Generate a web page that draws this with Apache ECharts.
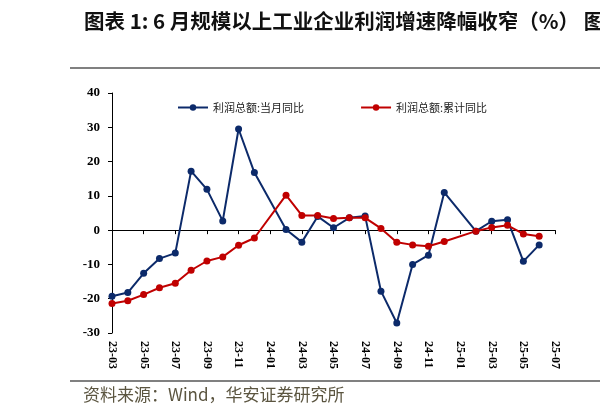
<!DOCTYPE html>
<html>
<head>
<meta charset="utf-8">
<script src="https://cdn.jsdelivr.net/npm/echarts@6/dist/echarts.min.js"></script>
<style>
html,body{margin:0;padding:0;background:#fff;}
#main{width:600px;height:417px;}
</style>
</head>
<body>
<div id="main"></div>
<script>
// 月份（1月与2月合并发布，1月为空）
var months = ['23-03','23-04','23-05','23-06','23-07','23-08','23-09','23-10','23-11','23-12',
              '24-01','24-02','24-03','24-04','24-05','24-06','24-07','24-08','24-09','24-10','24-11','24-12',
              '25-01','25-02','25-03','25-04','25-05','25-06','25-07'];
// 利润总额:当月同比
var monthlyYoy = [-19.3,-18.2,-12.6,-8.3,-6.7,17.2,11.9,2.7,29.5,16.8,
                  null,0.2,-3.5,4.0,0.7,3.6,4.1,-17.8,-27.1,-10.0,-7.3,11.0,
                  null,-0.3,2.6,3.0,-9.1,-4.3,null];
// 利润总额:累计同比
var cumYoy = [-21.4,-20.6,-18.8,-16.8,-15.5,-11.7,-9.0,-7.8,-4.4,-2.3,
              null,10.2,4.3,4.3,3.4,3.6,3.6,0.5,-3.5,-4.3,-4.7,-3.3,
              null,-0.3,0.8,1.4,-1.1,-1.8,null];
var yTicks = {min:-30, max:40, step:10};

var serif = '"Liberation Serif","Times New Roman",serif';
var cjk = '"Noto Sans CJK SC",sans-serif';

var chart = echarts.init(document.getElementById('main'));
var option = {
	animation: false,
	backgroundColor: '#fff',
	grid: {left: 112, right: 45, top: 93, bottom: 84},
	legend: {
		top: 97,
		left: 172,
		itemGap: 56,
		itemWidth: 30,
		itemHeight: 8,
		textStyle: {color: '#222', fontSize: 11, fontFamily: cjk},
		data: ['利润总额:当月同比','利润总额:累计同比']
	},
	graphic: [
		{type:'text', left: 84, top: 11, style:{text:'图表 1: 6 月规模以上工业企业利润增速降幅收窄（%） 图', fill:'#111', font:'bold 20.5px ' + cjk}},
		{type:'rect', shape:{x:70, y:67, width:540, height:2}, style:{fill:'#808080'}},
		{type:'rect', shape:{x:70, y:380, width:540, height:2}, style:{fill:'#808080'}},
		{type:'text', left: 83, top: 386, style:{text:'资料来源：Wind，华安证券研究所', fill:'#5b5540', font:'17px ' + cjk}}
	],
	xAxis: [{
		type: 'category',
		data: months,
		boundaryGap: false,
		axisLine: {onZero: true, lineStyle: {color: '#000', width: 1}},
		axisTick: {interval: 1, length: 4, lineStyle: {color: '#000'}},
		axisLabel: {show: false},
		splitLine: {show: false}
	}, {
		type: 'category',
		data: months,
		boundaryGap: false,
		position: 'bottom',
		axisLine: {show: false, onZero: false},
		axisTick: {show: false},
		axisLabel: {interval: 1, rotate: -90, margin: 8, color: '#000', fontSize: 12, fontWeight: 'bold', fontFamily: serif}
	}],
	yAxis: {
		type: 'value',
		min: yTicks.min,
		max: yTicks.max,
		interval: yTicks.step,
		axisLine: {show: true, lineStyle: {color: '#000', width: 1}},
		axisTick: {show: true, length: 4, lineStyle: {color: '#000'}},
		axisLabel: {color: '#000', fontSize: 13, fontWeight: 'bold', fontFamily: serif, margin: 12},
		splitLine: {show: false}
	},
	series: [{
		name: '利润总额:当月同比',
		type: 'line',
		data: monthlyYoy,
		connectNulls: true,
		symbol: 'circle',
		symbolSize: 7,
		color: '#0c2a6a',
		lineStyle: {width: 2}
	}, {
		name: '利润总额:累计同比',
		type: 'line',
		data: cumYoy,
		connectNulls: true,
		symbol: 'circle',
		symbolSize: 7,
		color: '#c00000',
		lineStyle: {width: 2}
	}]
};
chart.setOption(option);
</script>
</body>
</html>
